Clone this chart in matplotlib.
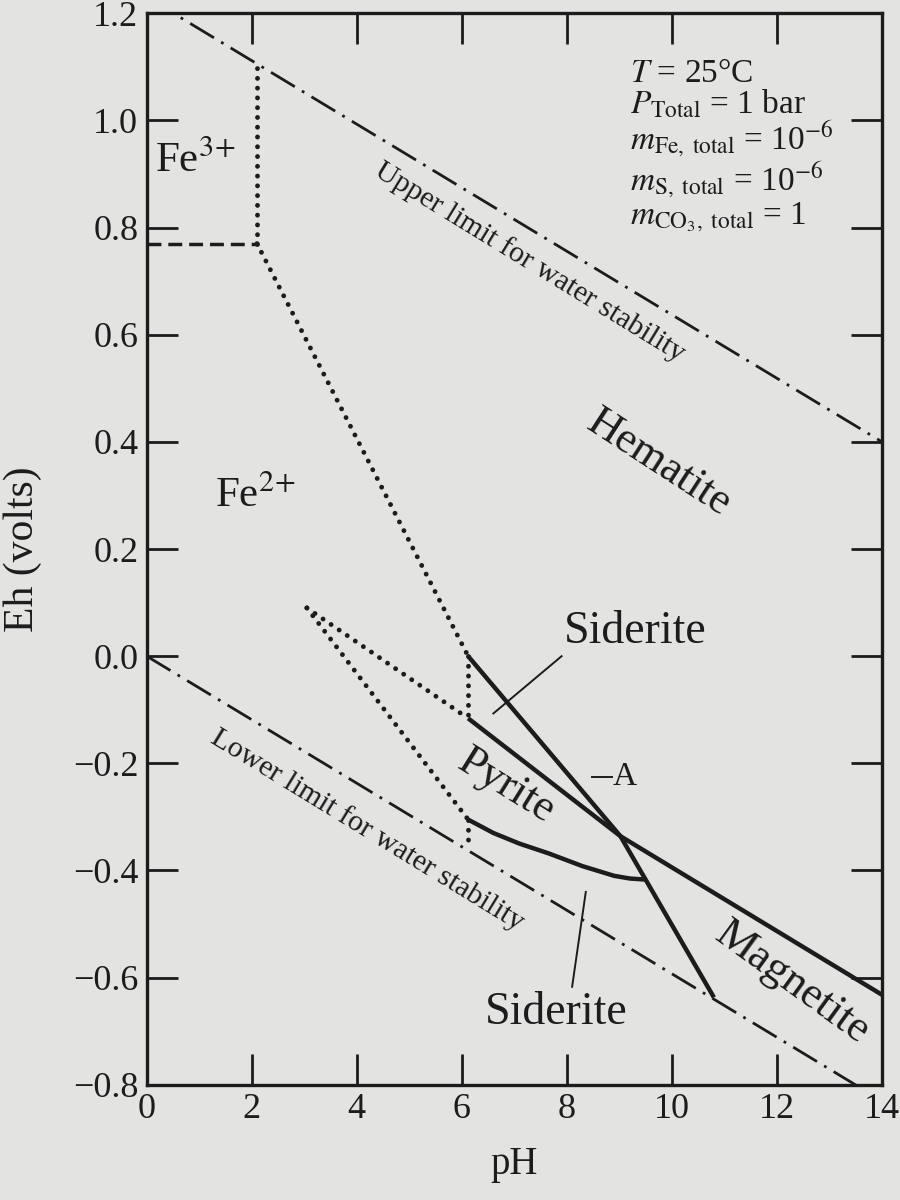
#!/usr/bin/env python
"""Eh-pH diagram for the Fe-S-CO3 system (pyrite, siderite, hematite, magnetite)."""

import matplotlib

matplotlib.use("Agg")

import matplotlib.pyplot as plt
from matplotlib.ticker import FixedLocator

# water stability limits (pH, Eh)
upper_water_ph = [0.0, 14.0]
upper_water_eh = [1.23, 0.40]
lower_water_ph = [0.0, 14.0]
lower_water_eh = [0.0, -0.83]

# Fe3+ / Fe2+ boundaries
fe3_dash_ph = [0.0, 2.1]
fe3_dash_eh = [0.77, 0.77]
fe3_vert_ph = [2.1, 2.1]
fe3_vert_eh = [0.77, 1.11]
fe2_hem_ph = [2.1, 6.12]
fe2_hem_eh = [0.77, 0.0]

# dotted wedge for pyrite field
wedge_top_ph = [3.05, 6.12]
wedge_top_eh = [0.09, -0.116]
wedge_bot_ph = [3.05, 6.12]
wedge_bot_eh = [0.09, -0.305]
vert_upper_ph = [6.12, 6.12]
vert_upper_eh = [0.0, -0.116]
vert_lower_ph = [6.12, 6.12]
vert_lower_eh = [-0.305, -0.36]

# solid boundaries
siderite_line_ph = [6.12, 9.02, 10.8]
siderite_line_eh = [0.0, -0.336, -0.637]
pyrite_line_ph = [6.12, 9.02, 14.0]
pyrite_line_eh = [-0.116, -0.336, -0.632]
pyrite_curve_ph = [6.12, 6.6, 7.1, 7.65, 8.3, 8.9, 9.2, 9.5]
pyrite_curve_eh = [-0.305, -0.33, -0.35, -0.368, -0.392, -0.41, -0.415, -0.417]

# leader lines
upper_leader_ph = [7.9, 6.6]
upper_leader_eh = [0.0, -0.107]
lower_leader_ph = [8.36, 8.1]
lower_leader_eh = [-0.44, -0.617]
a_tick_ph = [8.47, 8.85]
a_tick_eh = [-0.225, -0.225]

x_ticks = [0, 2, 4, 6, 8, 10, 12, 14]
y_ticks = [-0.8, -0.6, -0.4, -0.2, 0.0, 0.2, 0.4, 0.6, 0.8, 1.0, 1.2]
y_tick_labels = ["\u22120.8", "\u22120.6", "\u22120.4", "\u22120.2", "0.0", "0.2",
                 "0.4", "0.6", "0.8", "1.0", "1.2"]

conditions = [
    r"$T$ = 25°C",
    r"$P_{\mathrm{Total}}$ = 1 bar",
    r"$m_{\mathrm{Fe,\ total}}$ = 10$^{-6}$",
    r"$m_{\mathrm{S,\ total}}$ = 10$^{-6}$",
    r"$m_{\mathrm{CO_3,\ total}}$ = 1",
]

INK = "#1c1c1c"
PAPER = "#e3e4e2"

plt.rcParams["font.family"] = ["Liberation Serif", "DejaVu Serif"]
plt.rcParams["mathtext.fontset"] = "stix"

fig = plt.figure(figsize=(9, 12), dpi=100, facecolor=PAPER)
ax = fig.add_axes([0.163, 0.096, 0.817, 0.893], facecolor=PAPER)

dashdot = (0, (10, 3, 1, 3))
dotted = (0, (0.01, 2.0))

ax.plot(upper_water_ph, upper_water_eh, color=INK, lw=2.0, linestyle=dashdot)
ax.plot(lower_water_ph, lower_water_eh, color=INK, lw=2.0, linestyle=dashdot)

ax.plot(fe3_dash_ph, fe3_dash_eh, color=INK, lw=2.5, linestyle=(0, (4, 2)))
for xs, ys in [(fe3_vert_ph, fe3_vert_eh), (fe2_hem_ph, fe2_hem_eh),
               (wedge_top_ph, wedge_top_eh), (wedge_bot_ph, wedge_bot_eh),
               (vert_upper_ph, vert_upper_eh), (vert_lower_ph, vert_lower_eh)]:
    ax.plot(xs, ys, color=INK, lw=3.5, linestyle=dotted, dash_capstyle="round")

for xs, ys in [(siderite_line_ph, siderite_line_eh), (pyrite_line_ph, pyrite_line_eh),
               (pyrite_curve_ph, pyrite_curve_eh)]:
    ax.plot(xs, ys, color=INK, lw=3.2, solid_capstyle="butt")

for xs, ys in [(upper_leader_ph, upper_leader_eh), (lower_leader_ph, lower_leader_eh),
               (a_tick_ph, a_tick_eh)]:
    ax.plot(xs, ys, color=INK, lw=1.4)

# region labels
ax.text(0.15, 0.925, r"Fe$^{3\!+}$", fontsize=31, color=INK, ha="left", va="center")
ax.text(1.3, 0.30, r"Fe$^{2\!+}$", fontsize=31, color=INK, ha="left", va="center")
ax.text(9.75, 0.36, "Hematite", fontsize=32, color=INK,
        ha="center", va="center", rotation=-33)
ax.text(9.3, 0.045, "Siderite", fontsize=33, color=INK, ha="center", va="center")
ax.text(6.85, -0.243, "Pyrite", fontsize=32, color=INK, ha="center", va="center",
        rotation=-32)
ax.text(9.1, -0.225, "A", fontsize=24, color=INK, ha="center", va="center")
ax.text(12.3, -0.61, "Magnetite", fontsize=32, color=INK, ha="center", va="center",
        rotation=-36)
ax.text(7.8, -0.665, "Siderite", fontsize=33, color=INK, ha="center", va="center")
ax.text(7.3, 0.735, "Upper limit for water stability", fontsize=21.5, color=INK,
        ha="center", va="center", rotation=-31.5)
ax.text(4.2, -0.325, "Lower limit for water stability", fontsize=21.5, color=INK,
        ha="center", va="center", rotation=-31.5)

# conditions block as one multi-line text
ax.text(9.2, 1.115, "\n".join(conditions), fontsize=24, color=INK,
        ha="left", va="top", linespacing=0.95)

ax.set_xlim(0, 14)
ax.set_ylim(-0.8, 1.2)
ax.xaxis.set_major_locator(FixedLocator(x_ticks))
ax.yaxis.set_major_locator(FixedLocator(y_ticks))
ax.set_yticklabels(y_tick_labels)
ax.tick_params(direction="in", length=22, width=2.0, labelsize=26, colors=INK,
               top=True, right=True, pad=6)
for side in ax.spines.values():
    side.set_linewidth(2.4)
    side.set_color(INK)

ax.set_xlabel("pH", fontsize=28, color=INK, labelpad=14)
ax.set_ylabel("Eh (volts)", fontsize=30, color=INK, labelpad=22)

fig.savefig("out.png", dpi=100, facecolor=PAPER)
